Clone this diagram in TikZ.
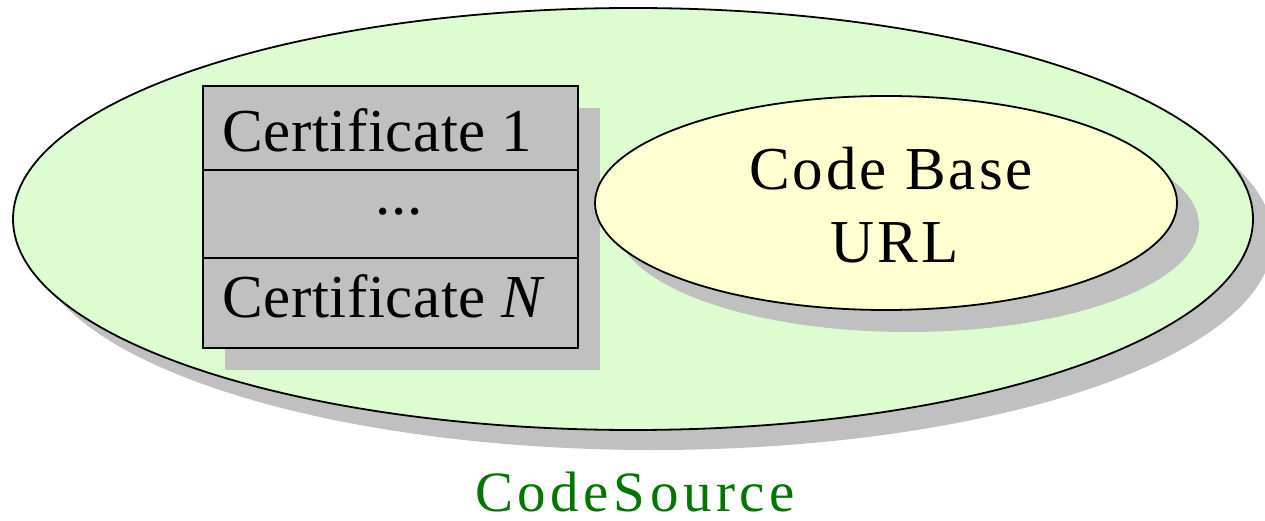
\documentclass[tikz,border=0pt]{standalone}
\usepackage{fontspec}
\usepackage{graphicx}
\setmainfont{Liberation Serif}
\usetikzlibrary{shapes.geometric,shadows}
\definecolor{outerfill}{RGB}{221,252,207}
\definecolor{urlfill}{RGB}{255,255,208}
\definecolor{boxgray}{RGB}{192,192,192}
\definecolor{labelgreen}{RGB}{0,118,0}
\tikzset{
  outline/.style={draw=black, line width=1.8pt},
  dropshade/.style={drop shadow={shadow xshift=20pt, shadow yshift=-20pt, fill=boxgray, opacity=1}},
  bigtext/.style={font=\fontsize{61}{72}\selectfont\addfontfeature{LetterSpace=1}, inner sep=0pt},
  urltext/.style={font=\fontsize{61}{72}\selectfont\addfontfeature{LetterSpace=5}, inner sep=0pt}
}
\begin{document}
\begin{tikzpicture}[x=1pt, y=-1pt]
\useasboundingbox (0,0) rectangle (1265,521);

% the CodeSource ellipse
\node[ellipse, outline, fill=outerfill, dropshade, minimum width=1240pt, minimum height=422pt, inner sep=0pt]
  (codesource) at (633,219) {};

% certificate stack
\node[rectangle, outline, fill=boxgray, drop shadow={shadow xshift=22pt, shadow yshift=-22pt, fill=boxgray, opacity=1},
  minimum width=375pt, minimum height=262pt, inner sep=0pt, anchor=north west]
  (certs) at (202,85) {};
\coordinate (div1) at (0,170);
\coordinate (div2) at (0,258);
\draw[outline] (certs.west |- div1) -- (certs.east |- div1);
\draw[outline] (certs.west |- div2) -- (certs.east |- div2);
\node[bigtext, anchor=base west] (cert1) at (222,152) {Certificate 1};
\node[bigtext, anchor=base] (dots) at (399,215) {...};
\node[bigtext, anchor=base west] (certN) at (222,317) {Certificate \textit{N}};

% code base ellipse
\node[ellipse, outline, fill=urlfill, drop shadow={shadow xshift=22pt, shadow yshift=-22pt, fill=boxgray, opacity=1},
  minimum width=582pt, minimum height=214pt, inner sep=0pt]
  (codebase) at (886,203) {};
\node[urltext, anchor=base] (cbline1) at (891,190) {Code Base};
\node[urltext, anchor=base] (cbline2) at (895,262) {URL};

% caption
\node[inner sep=0pt, anchor=base, text=labelgreen, font=\fontsize{57}{66}\selectfont\addfontfeature{LetterSpace=8}]
  (caption) at (635,511) {CodeSource};
\end{tikzpicture}
\end{document}
